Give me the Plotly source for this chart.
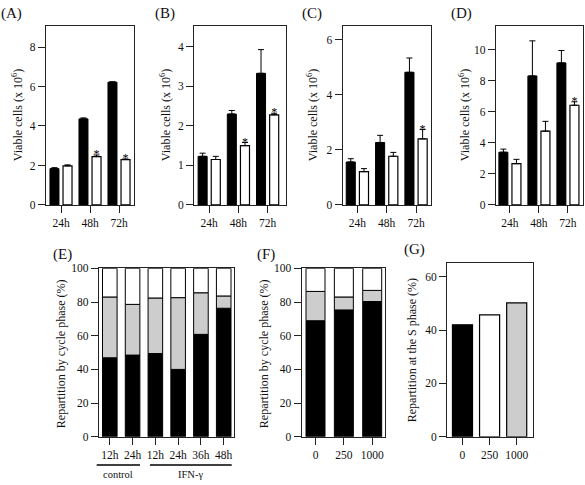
import plotly.graph_objects as go

W, H = 585, 485
FONT = "Liberation Serif, Times New Roman, serif"

# ---------------- data ----------------
times = ["24h", "48h", "72h"]

A_ctrl = [1.84, 4.36, 6.22]
A_ctrl_err = [0.05, 0.05, 0.02]
A_ifn = [1.98, 2.45, 2.30]
A_ifn_err = [0.05, 0.08, 0.03]
A_sig = [False, True, True]

B_ctrl = [1.23, 2.30, 3.33]
B_ctrl_err = [0.08, 0.09, 0.60]
B_ifn = [1.15, 1.50, 2.28]
B_ifn_err = [0.08, 0.08, 0.04]
B_sig = [False, True, True]

C_ctrl = [1.56, 2.27, 4.82]
C_ctrl_err = [0.12, 0.26, 0.52]
C_ifn = [1.21, 1.77, 2.40]
C_ifn_err = [0.11, 0.14, 0.34]
C_sig = [False, False, True]

D_ctrl = [3.40, 8.32, 9.16]
D_ctrl_err = [0.20, 2.26, 0.80]
D_ifn = [2.66, 4.76, 6.43]
D_ifn_err = [0.28, 0.63, 0.22]
D_sig = [False, False, True]

E_labels = ["12h", "24h", "12h", "24h", "36h", "48h"]
E_g1 = [46.9, 48.5, 49.4, 40.0, 60.8, 76.3]       # black (bottom)
E_s_top = [83.0, 78.6, 82.4, 82.6, 85.5, 83.6]    # top of grey segment

F_labels = ["0", "250", "1000"]
F_g1 = [68.9, 75.3, 80.3]
F_s_top = [86.3, 83.0, 86.9]

G_labels = ["0", "250", "1000"]
G_values = [42.0, 45.7, 50.2]

BLACK = "#000000"
WHITE = "#ffffff"
GREY = "#cdcdcd"
G_colors = [BLACK, WHITE, GREY]

# ---------------- layout helpers ----------------
def px_x(px):
    return px / W

def px_y(py):
    return 1 - py / H

fig = go.Figure()

axis_common = dict(
    showline=True, mirror=True, linecolor="#222222", linewidth=1.4,
    ticks="outside", ticklen=7, tickwidth=1.3, tickcolor="#222222",
    showgrid=False, zeroline=False,
    tickfont=dict(family=FONT, size=11.5, color="#111111"),
)

top_panels = [
    ("A", A_ctrl, A_ctrl_err, A_ifn, A_ifn_err, A_sig, (46, 134), [-0.517, 2.517], [0, 9.09], 2, 17),
    ("B", B_ctrl, B_ctrl_err, B_ifn, B_ifn_err, B_sig, (194.3, 286), [-0.51, 2.63], [0, 4.54], 1, 165),
    ("C", C_ctrl, C_ctrl_err, C_ifn, C_ifn_err, C_sig, (342.7, 430.7), [-0.50, 2.50], [0, 6.52], 2, 312),
    ("D", D_ctrl, D_ctrl_err, D_ifn, D_ifn_err, D_sig, (496, 583), [-0.48, 2.52], [0, 11.57], 2, 464),
]
panel_label_pos = {"A": (11, 8), "B": (165, 8), "C": (312, 8), "D": (461, 8),
                   "E": (62, 255), "F": (266, 255), "G": (414, 250)}

annotations = []
shapes = []

BW = 0.31
OFF_C = -0.38
OFF_I = 0.07

for k, (name, ctrl, ctrl_err, ifn, ifn_err, sig, (xl, xr), xr_rng, yr_rng, dt, ytx) in enumerate(top_panels):
    idx = k + 1
    xa = "x" if idx == 1 else f"x{idx}"
    ya = "y" if idx == 1 else f"y{idx}"
    xs = list(range(len(times)))
    fig.add_trace(go.Bar(
        x=xs, y=ctrl, width=BW, offset=OFF_C, xaxis=xa, yaxis=ya,
        marker=dict(color=BLACK, line=dict(color=BLACK, width=1)),
        error_y=dict(type="data", symmetric=False, array=ctrl_err,
                     arrayminus=[0] * len(ctrl), color=BLACK, thickness=1, width=3),
        showlegend=False,
    ))
    fig.add_trace(go.Bar(
        x=xs, y=ifn, width=BW, offset=OFF_I, xaxis=xa, yaxis=ya,
        marker=dict(color=WHITE, line=dict(color=BLACK, width=1.2)),
        error_y=dict(type="data", symmetric=False, array=ifn_err,
                     arrayminus=[0] * len(ifn), color=BLACK, thickness=1, width=3),
        showlegend=False,
    ))
    sx = [i + OFF_I + BW / 2 for i in xs if sig[i]]
    sy = [ifn[i] + ifn_err[i] for i in xs if sig[i]]
    fig.add_trace(go.Scatter(
        x=sx, y=sy, mode="text", text=["*"] * len(sx), textposition="middle center",
        textfont=dict(family=FONT, size=12, color=BLACK),
        xaxis=xa, yaxis=ya, showlegend=False, hoverinfo="skip",
    ))
    fig.layout[f"xaxis{'' if idx == 1 else idx}"] = dict(
        axis_common, domain=[px_x(xl), px_x(xr)], range=xr_rng,
        tickvals=xs, ticktext=times, anchor=ya,
    )
    fig.layout[f"yaxis{'' if idx == 1 else idx}"] = dict(
        axis_common, domain=[px_y(204), px_y(20)], range=yr_rng,
        dtick=dt, tick0=0, anchor=xa,
    )
    annotations.append(dict(
        text="Viable cells (x 10<sup>6</sup>)", x=px_x(ytx), y=px_y(112),
        xref="paper", yref="paper", textangle=-90, showarrow=False,
        xanchor="center", yanchor="middle",
        font=dict(family=FONT, size=12, color="#111111"),
    ))

# ---- Panel E (stacked) ----
xe = list(range(len(E_labels)))
EW = 0.64
fig.add_trace(go.Bar(x=xe, y=E_g1, width=EW, offset=-EW / 2, xaxis="x5", yaxis="y5",
                     marker=dict(color=BLACK, line=dict(color=BLACK, width=1)), showlegend=False))
fig.add_trace(go.Bar(x=xe, y=[t - b for t, b in zip(E_s_top, E_g1)], base=E_g1, width=EW,
                     offset=-EW / 2, xaxis="x5", yaxis="y5",
                     marker=dict(color=GREY, line=dict(color=BLACK, width=1)), showlegend=False))
fig.add_trace(go.Bar(x=xe, y=[100 - t for t in E_s_top], base=E_s_top, width=EW,
                     offset=-EW / 2, xaxis="x5", yaxis="y5",
                     marker=dict(color=WHITE, line=dict(color=BLACK, width=1)), showlegend=False))
fig.layout["xaxis5"] = dict(axis_common, domain=[px_x(99), px_x(234.3)], range=[-0.474, 5.465],
                            tickvals=xe, ticktext=E_labels, anchor="y5")
fig.layout["yaxis5"] = dict(axis_common, domain=[px_y(441.7), px_y(269)], range=[0, 100],
                            dtick=20, tick0=0, anchor="x5")

# ---- Panel F (stacked) ----
xf = list(range(len(F_labels)))
FW = 0.67
fig.add_trace(go.Bar(x=xf, y=F_g1, width=FW, offset=-FW / 2, xaxis="x6", yaxis="y6",
                     marker=dict(color=BLACK, line=dict(color=BLACK, width=1)), showlegend=False))
fig.add_trace(go.Bar(x=xf, y=[t - b for t, b in zip(F_s_top, F_g1)], base=F_g1, width=FW,
                     offset=-FW / 2, xaxis="x6", yaxis="y6",
                     marker=dict(color=GREY, line=dict(color=BLACK, width=1)), showlegend=False))
fig.add_trace(go.Bar(x=xf, y=[100 - t for t in F_s_top], base=F_s_top, width=FW,
                     offset=-FW / 2, xaxis="x6", yaxis="y6",
                     marker=dict(color=WHITE, line=dict(color=BLACK, width=1)), showlegend=False))
fig.layout["xaxis6"] = dict(axis_common, domain=[px_x(301.7), px_x(385.3)], range=[-0.487, 2.462],
                            tickvals=xf, ticktext=F_labels, anchor="y6")
fig.layout["yaxis6"] = dict(axis_common, domain=[px_y(441.7), px_y(269)], range=[0, 100],
                            dtick=20, tick0=0, anchor="x6")

# ---- Panel G ----
xg = list(range(len(G_labels)))
GW = 0.74
fig.add_trace(go.Bar(x=xg, y=G_values, width=GW, offset=-GW / 2, xaxis="x7", yaxis="y7",
                     marker=dict(color=G_colors, line=dict(color=BLACK, width=1.2)), showlegend=False))
fig.layout["xaxis7"] = dict(axis_common, domain=[px_x(447.3), px_x(532.7)], range=[-0.56, 2.59],
                            tickvals=xg, ticktext=G_labels, anchor="y7")
fig.layout["yaxis7"] = dict(axis_common, domain=[px_y(441.7), px_y(264)], range=[0, 65],
                            dtick=20, tick0=0, anchor="x7")

for tx, ty, txt in [(61, 357, "Repartition by cycle phase (%)"),
                    (264, 357, "Repartition by cycle phase (%)"),
                    (412, 353, "Repartition at the S phase (%)")]:
    annotations.append(dict(
        text=txt, x=px_x(tx), y=px_y(ty), xref="paper", yref="paper", textangle=-90,
        showarrow=False, xanchor="center", yanchor="middle",
        font=dict(family=FONT, size=12, color="#111111"),
    ))

for lab, (lx, ly) in panel_label_pos.items():
    annotations.append(dict(
        text=f"({lab})", x=px_x(lx), y=px_y(ly), xref="paper", yref="paper",
        showarrow=False, xanchor="center", yanchor="middle",
        font=dict(family=FONT, size=15, color="#111111"),
    ))

for (x0, x1, txt) in [(96.7, 140, "control"), (150, 231.7, "IFN-γ")]:
    shapes.append(dict(type="line", xref="paper", yref="paper",
                       x0=px_x(x0), x1=px_x(x1), y0=px_y(470.7), y1=px_y(470.7),
                       line=dict(color=BLACK, width=1.5)))
    annotations.append(dict(
        text=txt, x=px_x((x0 + x1) / 2), y=px_y(480), xref="paper", yref="paper",
        showarrow=False, xanchor="center", yanchor="middle",
        font=dict(family=FONT, size=10.5, color="#111111"),
    ))

fig.update_layout(
    width=W, height=H, margin=dict(l=0, r=0, t=0, b=0),
    barmode="overlay", paper_bgcolor="white", plot_bgcolor="white",
    annotations=annotations, shapes=shapes, showlegend=False,
    font=dict(family=FONT, size=11, color="#111111"),
)

fig.write_html(
    "out.html",
    config={"displayModeBar": False},
    post_script="document.body.style.margin='0';document.body.style.overflow='hidden';",
)
